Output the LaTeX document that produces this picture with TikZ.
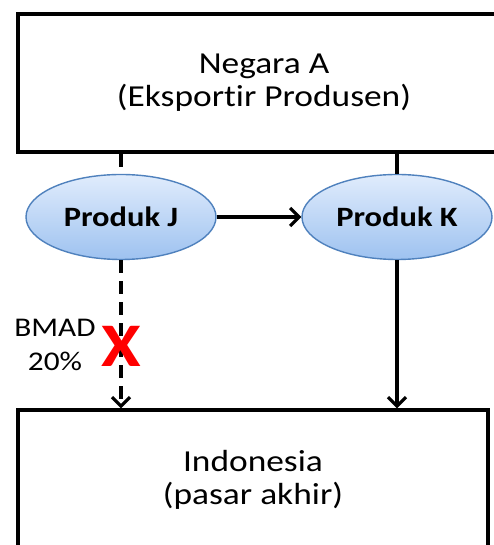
\documentclass[tikz,border=0pt]{standalone}
\usepackage{fontspec}
\setmainfont{Carlito}[FakeStretch=1.16,Ligatures=NoCommon]
\usetikzlibrary{shapes.geometric,arrows.meta}
\definecolor{ellline}{RGB}{79,129,189}
\definecolor{elltop}{RGB}{224,236,252}
\definecolor{ellbottom}{RGB}{158,194,240}
\begin{document}
\begin{tikzpicture}[
		x=1pt,y=1pt,
		negara/.style={draw,line width=3.4pt,minimum width=492pt,minimum height=138pt,
				align=center,font=\fontsize{30.5}{33}\selectfont},
		produk/.style={ellipse,draw=ellline,line width=1.4pt,top color=elltop,bottom color=ellbottom,
				minimum width=190pt,minimum height=85pt,inner sep=0pt,font=\bfseries\fontsize{28}{30}\selectfont},
		conn/.style={line width=3.4pt},
		panah/.style={conn,-{Straight Barb[length=9pt,width=18pt,line width=3.2pt]}},
		putus/.style={dash pattern=on 13pt off 8pt}
	]
	\useasboundingbox (0,0) rectangle (494,545);
	\clip (0,0) rectangle (494,545);

	\node[negara] (asal) at (264,462) {Negara A\\(Eksportir Produsen)};
	\node[negara,minimum width=470pt,minimum height=140pt] (pasar) at (253,65) {Indonesia\\(pasar akhir)};

	\node[produk] (j) at (121,328) {Produk J};
	\node[produk] (k) at (397,328) {Produk K};

	\draw[conn,putus] (j.north |- asal.south) -- (j.north);
	\draw[conn] (k.north |- asal.south) -- (k.north);
	\draw[panah] (j.east) -- (k.west);
	\draw[panah,putus] (j.south) -- (j.south |- pasar.north);
	\draw[panah] (k.south) -- (k.south |- pasar.north);

	% label bea masuk
	\node[align=center,font=\fontsize{27}{34}\selectfont] (bmad) at (55,200) {BMAD\\20\%};
	\node[text=red,font=\bfseries\fontsize{62}{62}\selectfont,inner sep=0pt] (silang) at (121,199) {X};
\end{tikzpicture}
\end{document}
